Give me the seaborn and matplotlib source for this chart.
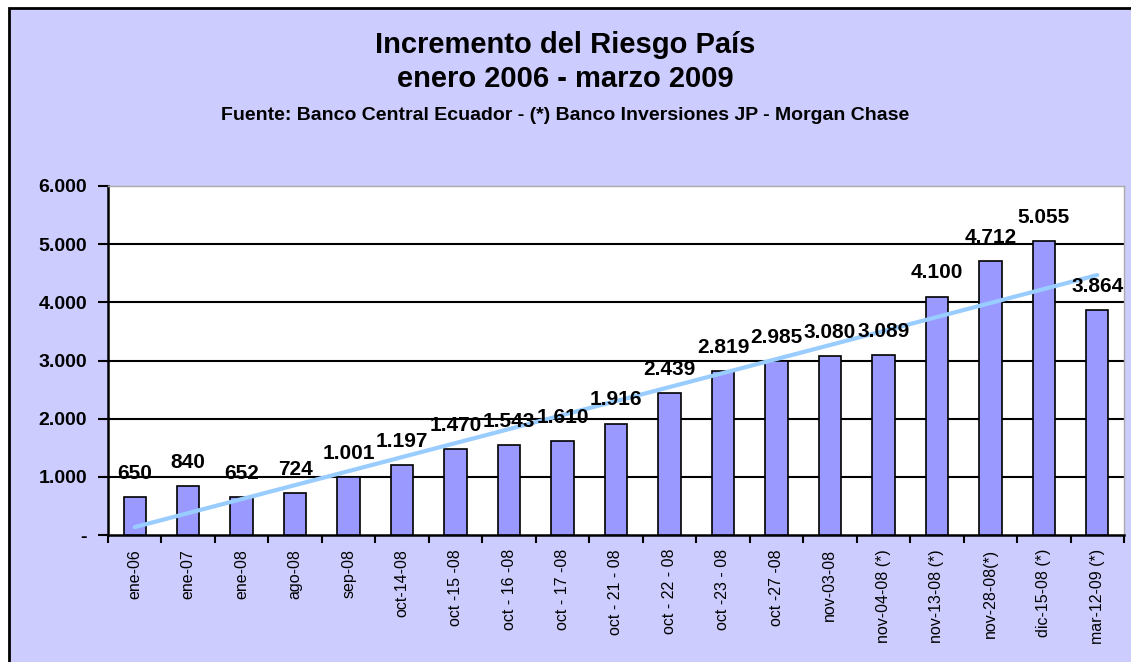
import matplotlib.pyplot as plt
import seaborn as sns
import numpy as np
from matplotlib.patches import Rectangle
from matplotlib.ticker import FixedLocator, FuncFormatter

# Data
fechas = ['ene-06', 'ene-07', 'ene-08', 'ago-08', 'sep-08', 'oct-14-08', 'oct -15 -08',
          'oct - 16 -08', 'oct - 17 -08', 'oct - 21 - 08', 'oct - 22 - 08', 'oct -23 - 08',
          'oct -27 -08', 'nov-03-08', 'nov-04-08 (*)', 'nov-13-08 (*)', 'nov-28-08(*)',
          'dic-15-08 (*)', 'mar-12-09 (*)']
riesgo = [650, 840, 652, 724, 1001, 1197, 1470, 1543, 1610, 1916, 2439, 2819,
          2985, 3080, 3089, 4100, 4712, 5055, 3864]

sns.set_style('white')
plt.rcParams['font.family'] = ['Liberation Sans', 'DejaVu Sans']
plt.rcParams.update({'text.color': 'black', 'xtick.color': 'black', 'ytick.color': 'black',
                     'xtick.bottom': True, 'ytick.left': True})

fig = plt.figure(figsize=(11.31, 6.62), dpi=100, facecolor='white')
fig.patches.append(Rectangle((9 / 1131, -0.02), 1.05, 1 - 8 / 662 + 0.02,
                             transform=fig.transFigure, facecolor='#CCCCFF',
                             edgecolor='black', linewidth=2, zorder=-10))

ax = fig.add_axes([108 / 1131, 1 - 535 / 662, (1124 - 108) / 1131, (535 - 186) / 662])
ax.set_facecolor('white')

sns.barplot(x=fechas, y=riesgo, color='#9999FF', saturation=1, width=0.42,
            edgecolor='black', linewidth=1.2, ax=ax, zorder=3)

# linear trend line
xs = np.arange(len(riesgo))
m, b = np.polyfit(xs, riesgo, 1)
ax.plot(xs, m * xs + b, color='#99CCFF', linewidth=3, zorder=4)

# value labels
for i, v in enumerate(riesgo):
    txt = f'{v:,}'.replace(',', '.')
    ax.annotate(txt, (i, v), xytext=(0, 17), textcoords='offset points',
                ha='center', va='center', fontsize=15, fontweight='bold', zorder=5)

ax.set_xlim(-0.5, len(riesgo) - 0.5)
ax.set_ylim(0, 6000)
ax.set_yticks(range(0, 7000, 1000))
ax.yaxis.set_major_formatter(FuncFormatter(lambda v, p: '-' if v == 0 else f'{int(v):,}'.replace(',', '.')))
for y in range(1000, 6000, 1000):
    ax.axhline(y, color='black', linewidth=1.5, zorder=1)

ax.set_xlabel('')
ax.set_ylabel('')
ax.tick_params(axis='x', which='major', bottom=True, length=0, pad=10, labelsize=11.5, rotation=90)
ax.xaxis.set_minor_locator(FixedLocator(np.arange(-0.5, len(riesgo), 1)))
ax.tick_params(axis='x', which='minor', bottom=True, length=6, width=1.5, direction='out', color='black')
ax.tick_params(axis='y', left=True, length=7, width=1.5, direction='out', color='black', labelsize=14, pad=8)
for lbl in ax.get_yticklabels():
    lbl.set_fontweight('bold')

for s in ['left', 'bottom']:
    ax.spines[s].set_color('black')
    ax.spines[s].set_linewidth(1.8)
for s in ['top', 'right']:
    ax.spines[s].set_color('#AAAAAA')
    ax.spines[s].set_linewidth(1)

fig.text(0.5, 1 - 45 / 662, 'Incremento del Riesgo País', ha='center', va='center',
         fontsize=21, fontweight='bold')
fig.text(0.5, 1 - 79 / 662, 'enero 2006 - marzo 2009', ha='center', va='center',
         fontsize=21, fontweight='bold')
fig.text(0.5, 1 - 115 / 662, 'Fuente: Banco Central Ecuador - (*) Banco Inversiones JP - Morgan Chase',
         ha='center', va='center', fontsize=14, fontweight='bold')

fig.savefig('out.png', dpi=100, facecolor=fig.get_facecolor())
